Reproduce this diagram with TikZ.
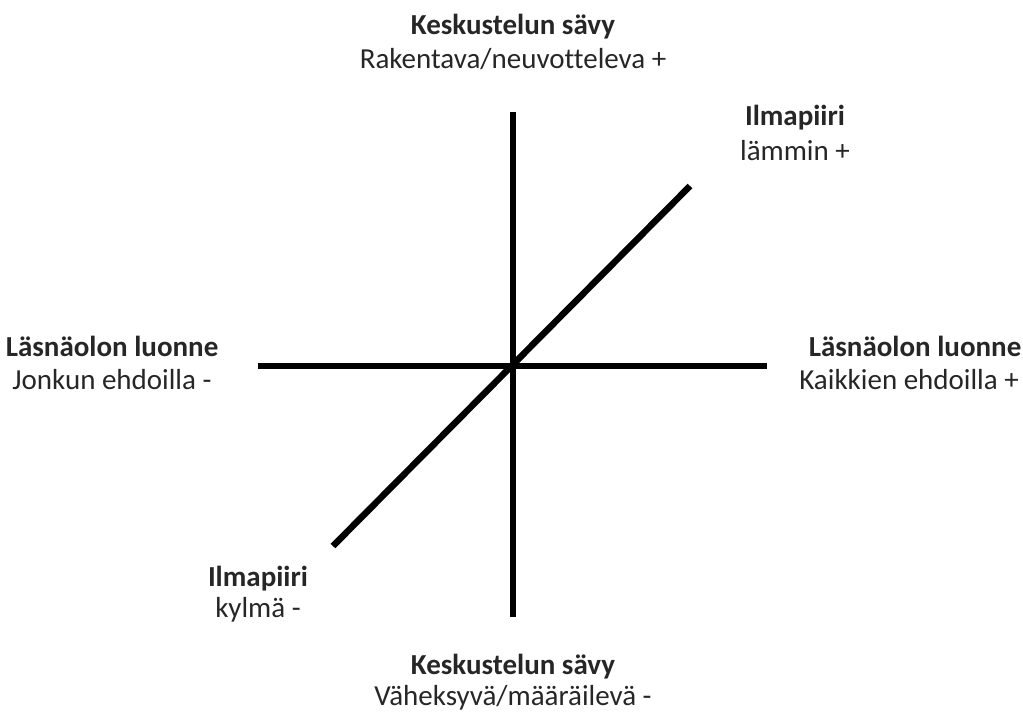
\documentclass[tikz,border=0pt]{standalone}
\usepackage{fontspec}
\setmainfont{Carlito}[Ligatures={NoCommon}]
\definecolor{txt}{HTML}{262626}
\begin{document}
\begin{tikzpicture}[x=1pt,y=-1pt,
  axis/.style={line width=6.5pt,black},
  ttl/.style={anchor=base,inner sep=0pt,text=txt,font=\fontsize{29}{34}\selectfont\bfseries},
  sub/.style={anchor=base,inner sep=0pt,text=txt,font=\fontsize{29}{34}\selectfont}]
\useasboundingbox (0,0) rectangle (1023,713);
\coordinate (vt) at (513,112);
\coordinate (vb) at (513,617);
\coordinate (hl) at (258,366);
\coordinate (hr) at (767,366);
\coordinate (dl) at (333,546);
\coordinate (dr) at (690,186);
\draw[axis] (vt) -- (vb);
\draw[axis] (hl) -- (hr);
\draw[axis] (dl) -- (dr);
\node[ttl] (toptitle) at (513,34) {Keskustelun sävy};
\node[sub] (topsub) at (513,68) {Rakentava/neuvotteleva +};
\node[ttl] (trtitle) at (795,125) {Ilmapiiri};
\node[sub] (trsub) at (795,160) {lämmin +};
\node[ttl] (ltitle) at (112,356) {Läsnäolon luonne};
\node[sub] (lsub) at (112,389) {Jonkun ehdoilla -};
\node[ttl] (rtitle) at (915,356) {Läsnäolon luonne};
\node[sub,anchor=base east] (rsub) at (1019,389) {Kaikkien ehdoilla +};
\node[ttl] (bltitle) at (258,586) {Ilmapiiri};
\node[sub] (blsub) at (258,617) {kylmä -};
\node[ttl] (bottitle) at (513,674) {Keskustelun sävy};
\node[sub] (botsub) at (513,705) {Väheksyvä/määräilevä -};
\end{tikzpicture}
\end{document}
